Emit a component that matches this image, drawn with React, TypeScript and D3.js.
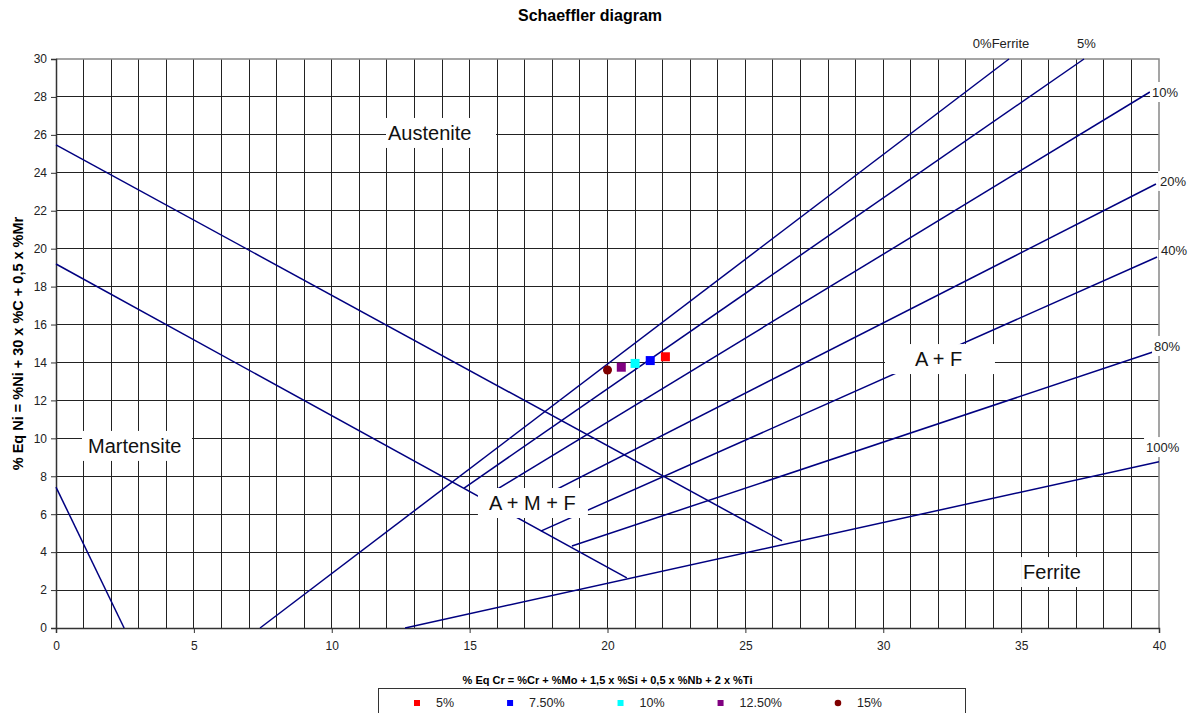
import React, { useEffect, useRef } from 'react';
import * as d3 from 'd3';

// boundary lines of the diagram, [x, y] end points in % Eq Cr / % Eq Ni
const martensiteLines = [
  [[0, 7.43], [2.47, 0]],
  [[0, 25.47], [26.33, 4.59]],
  [[0, 19.19], [20.7, 2.64]],
];

const ferriteNames = ['0%Ferrite', '5%', '10%', '20%', '40%', '80%', '100%'];
const ferriteStarts = [[7.4, 0], [14.8, 7.38], [15.43, 6.82], [16.4, 6.01], [17.58, 5.11], [18.71, 4.32], [12.66, 0]];
const ferriteEnds = [[34.56, 30], [37.28, 30], [39.67, 28.26], [39.89, 23.41], [39.93, 19.56], [39.78, 14.55], [40, 8.77]];
// where each % label sits (text start, middle)
const ferriteLabelPos = [[33.25, 30.8], [37.03, 30.8], [39.75, 28.26], [40.04, 23.57], [40.07, 19.93], [39.82, 14.87], [39.53, 9.54]];

const seriesNames = ['5%', '7.50%', '10%', '12.50%', '15%'];
const seriesCr = [22.1, 21.55, 21.0, 20.5, 20.0];
const seriesNi = [14.3, 14.1, 13.95, 13.75, 13.6];
const seriesColors = ['#ff0000', '#0000ff', '#00ffff', '#800080', '#800000'];

const regionNames = ['Austenite', 'Martensite', 'A + M + F', 'A + F', 'Ferrite'];
const regionPos = [[12.04, 26.1], [1.16, 9.6], [15.7, 6.59], [31.15, 14.18], [35.07, 2.95]];

const xTicks = [0, 5, 10, 15, 20, 25, 30, 35, 40];
const yTicks = d3.range(0, 31, 2);

const FONT = '"Liberation Sans", Arial, sans-serif';

const Schaeffler = () => {
  const svgRef = useRef(null);

  useEffect(() => {
    const svg = d3.select(svgRef.current);
    svg.selectAll('*').remove();

    const margin = { top: 59, right: 33, bottom: 85, left: 56 };
    const width = 1192;
    const height = 713;

    const x = d3.scaleLinear().domain([0, 40]).range([margin.left, width - margin.right]);
    const y = d3.scaleLinear().domain([0, 30]).range([height - margin.bottom, margin.top]);

    const g = svg.append('g').style('font-family', FONT);

    // grid
    g.append('g')
      .selectAll('line')
      .data(d3.range(1, 40))
      .enter()
      .append('line')
      .attr('x1', d => x(d)).attr('x2', d => x(d))
      .attr('y1', y(0)).attr('y2', y(30))
      .attr('stroke', '#222')
      .attr('shape-rendering', 'crispEdges');

    g.append('g')
      .selectAll('line')
      .data(d3.range(2, 30, 2))
      .enter()
      .append('line')
      .attr('x1', x(0)).attr('x2', x(40))
      .attr('y1', d => y(d)).attr('y2', d => y(d))
      .attr('stroke', '#222')
      .attr('shape-rendering', 'crispEdges');

    // top / right border
    g.append('path')
      .attr('d', `M${x(0)},${y(30)}H${x(40)}V${y(0)}`)
      .attr('fill', 'none')
      .attr('stroke', '#888')
      .attr('stroke-width', 1.5);

    // axes
    const xAxis = g.append('g')
      .attr('transform', `translate(0,${y(0)})`)
      .call(d3.axisBottom(x).tickValues(xTicks).tickSize(5).tickPadding(8));
    const yAxis = g.append('g')
      .attr('transform', `translate(${x(0)},0)`)
      .call(d3.axisLeft(y).tickValues(yTicks).tickSize(5).tickPadding(4));
    [xAxis, yAxis].forEach(a => {
      a.select('.domain').attr('stroke', '#333').attr('stroke-width', 1.5);
      a.selectAll('.tick line').attr('stroke', '#333');
      a.selectAll('text').style('font-size', '12px').style('font-family', FONT).attr('fill', '#222');
    });

    const line = d3.line().x(d => x(d[0])).y(d => y(d[1]));

    g.append('g')
      .selectAll('path')
      .data(martensiteLines)
      .enter()
      .append('path')
      .attr('d', line)
      .attr('fill', 'none')
      .attr('stroke', '#000080')
      .attr('stroke-width', 1.5);

    g.append('g')
      .selectAll('path')
      .data(ferriteNames.map((_, i) => [ferriteStarts[i], ferriteEnds[i]]))
      .enter()
      .append('path')
      .attr('d', line)
      .attr('fill', 'none')
      .attr('stroke', '#000080')
      .attr('stroke-width', 1.5);

    // ferrite % labels with white backing
    const fl = g.append('g')
      .selectAll('g')
      .data(ferriteNames)
      .enter()
      .append('g')
      .attr('transform', (d, i) => `translate(${x(ferriteLabelPos[i][0])},${y(ferriteLabelPos[i][1])})`);
    fl.append('rect').attr('fill', '#fff');
    fl.append('text')
      .text(d => d)
      .attr('dy', '0.35em')
      .style('font-size', '13px')
      .attr('fill', '#222');
    fl.each(function () {
      const t = d3.select(this).select('text').node();
      const w = t.getComputedTextLength();
      d3.select(this).select('rect')
        .attr('x', -2).attr('y', -10).attr('width', w + 4).attr('height', 20);
    });

    // region labels
    const rl = g.append('g')
      .selectAll('g')
      .data(regionNames)
      .enter()
      .append('g')
      .attr('transform', (d, i) => `translate(${x(regionPos[i][0])},${y(regionPos[i][1])})`);
    rl.append('rect').attr('fill', '#fff');
    rl.append('text')
      .text(d => d)
      .attr('dy', '0.35em')
      .style('font-size', '20px')
      .attr('fill', '#111');
    rl.each(function (d) {
      const t = d3.select(this).select('text').node();
      const w = t.getComputedTextLength();
      const left = d === 'A + F' ? 30 : d === 'A + M + F' ? 11 : d === 'Martensite' ? 6 : 2;
      const boxW = d === 'Ferrite' ? w + 10 : 110;
      d3.select(this).select('rect')
        .attr('x', -left).attr('y', -15).attr('width', boxW).attr('height', 30);
    });

    // data points
    const pts = g.append('g')
      .selectAll('g')
      .data(seriesNames)
      .enter()
      .append('g')
      .attr('transform', (d, i) => `translate(${x(seriesCr[i])},${y(seriesNi[i])})`);
    pts.each(function (d, i) {
      const s = d3.select(this);
      if (i === seriesNames.length - 1) {
        s.append('circle').attr('r', 4.5).attr('fill', seriesColors[i]);
      } else {
        s.append('rect').attr('x', -4.5).attr('y', -4.5).attr('width', 9).attr('height', 9).attr('fill', seriesColors[i]);
      }
    });

    // titles
    svg.append('text')
      .attr('x', 590).attr('y', 21)
      .attr('text-anchor', 'middle')
      .style('font-family', FONT).style('font-size', '16px').style('font-weight', 'bold')
      .text('Schaeffler diagram');

    svg.append('text')
      .attr('x', (x(0) + x(40)) / 2).attr('y', 684)
      .attr('text-anchor', 'middle')
      .style('font-family', FONT).style('font-size', '11px').style('font-weight', 'bold')
      .text('% Eq Cr = %Cr + %Mo + 1,5 x %Si + 0,5 x %Nb + 2 x %Ti');

    svg.append('text')
      .attr('transform', `translate(23,${(y(0) + y(30)) / 2}) rotate(-90)`)
      .attr('text-anchor', 'middle')
      .style('font-family', FONT).style('font-size', '14.5px').style('font-weight', 'bold')
      .text('% Eq Ni = %Ni + 30 x %C + 0,5 x %Mr');

    // legend
    const legend = svg.append('g').style('font-family', FONT);
    legend.append('rect')
      .attr('x', 378.5).attr('y', 688.5).attr('width', 587).attr('height', 40)
      .attr('fill', '#fff').attr('stroke', '#333');
    let lx = 414;
    seriesNames.forEach((name, i) => {
      if (i === seriesNames.length - 1) {
        legend.append('circle').attr('cx', lx + 3).attr('cy', 703).attr('r', 3.3).attr('fill', seriesColors[i]);
      } else {
        legend.append('rect').attr('x', lx).attr('y', 700).attr('width', 6).attr('height', 6).attr('fill', seriesColors[i]);
      }
      const t = legend.append('text')
        .attr('x', lx + 22).attr('y', 703).attr('dy', '0.35em')
        .style('font-size', '12.5px').attr('fill', '#222')
        .text(name);
      lx += 75 + t.node().getComputedTextLength();
    });
  }, []);

  return (
    <svg ref={svgRef} width={1192} height={713} style={{ position: 'absolute', left: 0, top: 0, background: '#fff' }}>
    </svg>
  );
};

export default function App() {
  return <Schaeffler />;
}
